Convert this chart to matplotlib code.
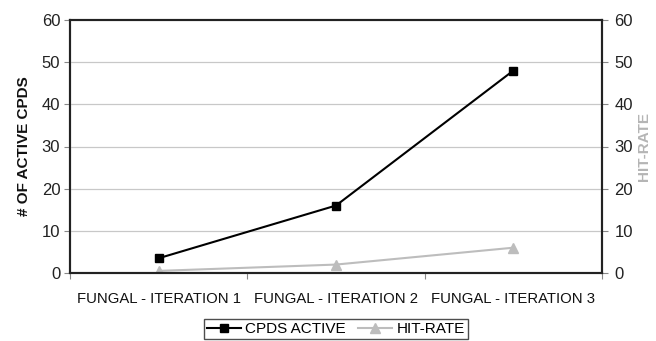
import matplotlib
matplotlib.use("Agg")
import matplotlib.pyplot as plt

categories = ["FUNGAL - ITERATION 1", "FUNGAL - ITERATION 2", "FUNGAL - ITERATION 3"]
cpds_active = [3.5, 16, 48]
hit_rate = [0.5, 2, 6]
yticks = [0, 10, 20, 30, 40, 50, 60]

plt.rcParams['font.family'] = ['Liberation Sans', 'DejaVu Sans']

fig = plt.figure(figsize=(6.56, 3.41), dpi=100)
ax = fig.add_axes([70/656, 1-273/341, 532/656, 253/341])
ax2 = ax.twinx()

x = list(range(len(categories)))
l1, = ax.plot(x, cpds_active, color='black', marker='s', markersize=6, linewidth=1.5, label='CPDS ACTIVE')
l2, = ax2.plot(x, hit_rate, color='#bdbdbd', marker='^', markersize=7, linewidth=1.5, label='HIT-RATE')
ax.set_zorder(ax2.get_zorder() + 1)
ax.patch.set_visible(False)

for a in (ax, ax2):
    a.set_ylim(0, 60)
    a.set_yticks(yticks)
    a.set_xlim(-0.5, 2.5)
ax.set_yticklabels([str(v) for v in yticks], fontsize=12, color='#222222')
ax2.set_yticklabels([str(v) for v in yticks], fontsize=12, color='#222222')
ax.tick_params(axis='y', length=4, width=0.8, color='#888888', pad=3)
ax2.tick_params(axis='y', length=4, width=0.8, color='#888888', pad=5)

ax.set_xticks([-0.5, 0.5, 1.5, 2.5], minor=False)
ax.set_xticklabels([])
ax.tick_params(axis='x', length=4, width=0.8, color='#888888')
ax.set_xticks(x, minor=True)
ax.set_xticklabels(categories, minor=True, fontsize=10.7, color='#111111')
ax.tick_params(axis='x', which='minor', length=0, pad=14)

for yv in yticks[1:-1]:
    ax.axhline(yv, color='#c8c8c8', linewidth=0.9, zorder=0)

for a in (ax, ax2):
    for s in a.spines.values():
        s.set_color('#222222')
        s.set_linewidth(1.5)

ax.set_ylabel('# OF ACTIVE CPDS', fontsize=11, fontweight='bold', color='#111111', labelpad=8)
ax2.set_ylabel('HIT-RATE', fontsize=11, fontweight='bold', color='#b5b5b5', labelpad=3)

leg = fig.legend(handles=[l1, l2], loc='center', bbox_to_anchor=(336/656, 1-329/341),
                 ncol=2, frameon=True, fontsize=11, handlelength=2.2, handletextpad=0.3,
                 columnspacing=0.8, borderpad=0.2, fancybox=False)
leg.get_frame().set_edgecolor('#222222')
leg.get_frame().set_linewidth(1.0)

fig.savefig('out.png', dpi=100)
